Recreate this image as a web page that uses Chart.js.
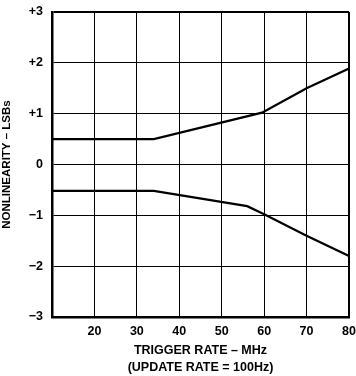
<!DOCTYPE html>
<html><head><meta charset="utf-8">
<script src="https://cdn.jsdelivr.net/npm/chart.js@4/dist/chart.umd.min.js"></script>
<style>html,body{margin:0;padding:0;background:#fff}#w{width:356px;height:376px}</style>
</head><body><div id="w"><canvas id="c"></canvas></div>
<script>
const upperX = [10, 34, 59.5, 70, 80];
const upperY = [0.5, 0.5, 1.02, 1.5, 1.89];
const lowerX = [10, 34, 56, 60, 70, 80];
const lowerY = [-0.52, -0.52, -0.82, -0.98, -1.4, -1.8];
const xTicks = [20, 30, 40, 50, 60, 70, 80];
const yTickLabels = {3:'+3',2:'+2',1:'+1',0:'0','-1':'\u22121','-2':'\u22122','-3':'\u22123'};
const xTitle = ['TRIGGER RATE \u2013 MHz', '(UPDATE RATE = 100Hz)'];
const yTitle = 'NONLINEARITY \u2013 LSBs';

const toPts = (xs, ys) => xs.map((x, i) => ({x, y: ys[i]}));
const fam = 'Liberation Sans, Arial, sans-serif';
const font = {family: fam, weight: 'bold', size: 12.5};
const titleFont = {family: fam, weight: 'bold', size: 12.5, lineHeight: 1.35};
const yTitleFont = {family: fam, weight: 'bold', size: 11.5};
Chart.defaults.font.family = fam;
Chart.defaults.color = '#000';

new Chart(document.getElementById('c'), {
  type: 'line',
  data: {datasets: [
    {data: toPts(upperX, upperY), borderColor: '#000', borderWidth: 2.2, pointRadius: 0, tension: 0, fill: false},
    {data: toPts(lowerX, lowerY), borderColor: '#000', borderWidth: 2.2, pointRadius: 0, tension: 0, fill: false}
  ]},
  options: {
    responsive: true, maintainAspectRatio: false, animation: false,
    layout: {padding: {top: 0, right: 0, left: 0, bottom: 0}},
    plugins: {legend: {display: false}, tooltip: {enabled: false}},
    scales: {
      x: {type: 'linear', min: 10, max: 80,
        afterFit: s => { s.height = 59; s.paddingRight = 7; },
        afterBuildTicks: s => { s.ticks = [10].concat(xTicks).map(v => ({value: v})); },
        ticks: {font, color: '#000', padding: 7, maxRotation: 0,
          callback: v => xTicks.includes(v) ? String(v) : ''},
        grid: {color: '#000', lineWidth: c => (c.tick && c.tick.value === 80) ? 2 : 1, drawTicks: false},
        border: {color: '#000', width: 2.5},
        title: {display: true, text: xTitle, font: titleFont, color: '#000', padding: {top: 2, bottom: 0}}
      },
      y: {min: -3, max: 3,
        afterFit: s => { s.width = 52; s.paddingTop = 12; },
        ticks: {font, color: '#000', stepSize: 1, padding: 9, callback: v => yTickLabels[v] ?? ''},
        grid: {color: '#000', lineWidth: c => (c.tick && c.tick.value === 3) ? 2 : 1, drawTicks: false},
        border: {color: '#000', width: 2.5},
        title: {display: true, text: yTitle, font: yTitleFont, color: '#000', padding: {top: 0, bottom: 1}}
      }
    }
  }
});
</script></body></html>
